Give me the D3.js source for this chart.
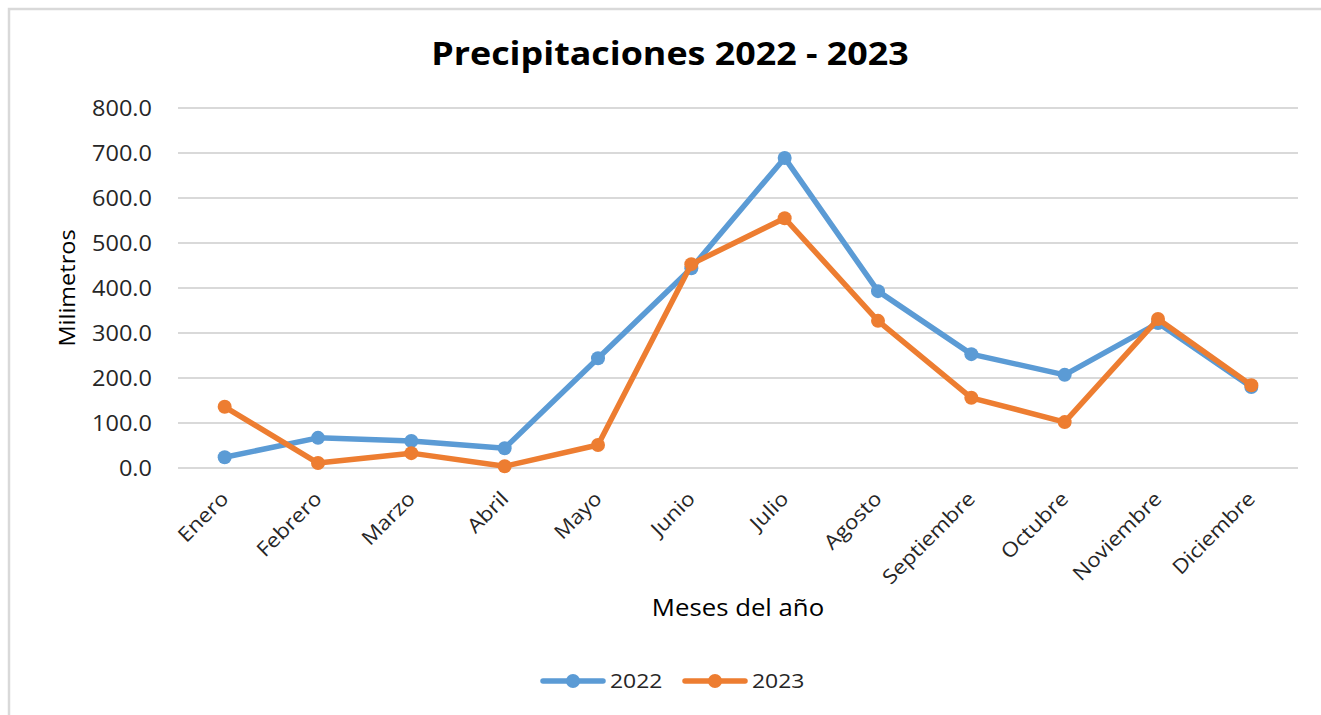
<!DOCTYPE html>
<html>
<head>
<meta charset="utf-8">
<script src="https://cdn.jsdelivr.net/npm/d3@7"></script>
<style>
  body { margin: 0; background: #fff; }
  svg { display: block; font-family: "Open Sans", sans-serif; }
</style>
</head>
<body>
<div id="chart"></div>
<script>
// datos
const months = ["Enero", "Febrero", "Marzo", "Abril", "Mayo", "Junio", "Julio",
  "Agosto", "Septiembre", "Octubre", "Noviembre", "Diciembre"];
const rain2022 = [24, 67, 60, 44, 244, 444, 689, 393, 253, 207, 322, 180];
const rain2023 = [136, 11, 33, 4, 51, 453, 555, 327, 156, 102, 331, 184];
const yTicks = [0, 100, 200, 300, 400, 500, 600, 700, 800];
const seriesNames = ["2022", "2023"];
const colors = ["#5b9bd5", "#ed7d31"];

let W = 1321, H = 715;
let margin = { top: 108, right: 23, bottom: 247, left: 178 };
let width = W - margin.left - margin.right;
let height = H - margin.top - margin.bottom;
const stretch = "scale(1.12,1)"; // el texto del original sale algo ensanchado

let svg = d3.select("#chart").append("svg")
  .attr("width", W)
  .attr("height", H);

// marco
svg.append("rect")
  .attr("x", 9).attr("y", 9)
  .attr("width", W + 20).attr("height", H + 20)
  .attr("fill", "#fff")
  .attr("stroke", "#d9d9d9")
  .attr("stroke-width", 2.5);

let g = svg.append("g")
  .attr("transform", `translate(${margin.left},${margin.top})`);

let x = d3.scaleBand().domain(months).range([0, width]);
let y = d3.scaleLinear().domain([0, 800]).range([height, 0]);

// grid
g.append("g")
  .selectAll("line")
  .data(yTicks)
  .join("line")
  .attr("x1", 0).attr("x2", width)
  .attr("y1", d => y(d)).attr("y2", d => y(d))
  .attr("stroke", "#d9d9d9")
  .attr("stroke-width", 2);

// eje y
let yAxis = g.append("g")
  .call(d3.axisLeft(y).tickValues(yTicks).tickFormat(d3.format(".1f")).tickSize(0));
yAxis.select(".domain").remove();
yAxis.selectAll("text")
  .attr("x", 0)
  .attr("dy", "0.36em")
  .attr("transform", "translate(-26,0) " + stretch)
  .attr("fill", "#262626")
  .style("font-size", "21px")
  .style("font-family", "Open Sans, sans-serif");

// eje x
let xAxis = g.append("g")
  .attr("transform", `translate(0,${height})`)
  .call(d3.axisBottom(x).tickSize(0).tickPadding(0));
xAxis.select(".domain").remove();
xAxis.selectAll("text")
  .attr("fill", "#262626")
  .style("font-size", "20px")
  .style("font-family", "Open Sans, sans-serif")
  .attr("text-anchor", "end")
  .attr("y", 0)
  .attr("dy", null)
  .attr("transform", "translate(5,32) rotate(-45) " + stretch);

// series
let line = d3.line()
  .x((d, i) => x(months[i]) + x.bandwidth() / 2)
  .y(d => y(d));

[rain2022, rain2023].forEach((vals, k) => {
  let s = g.append("g");
  s.append("path")
    .datum(vals)
    .attr("fill", "none")
    .attr("stroke", colors[k])
    .attr("stroke-width", 5.5)
    .attr("stroke-linejoin", "round")
    .attr("d", line);
  s.selectAll("circle")
    .data(vals)
    .join("circle")
    .attr("cx", (d, i) => x(months[i]) + x.bandwidth() / 2)
    .attr("cy", d => y(d))
    .attr("r", 7)
    .attr("fill", colors[k]);
});

// titulos
svg.append("text")
  .attr("transform", "translate(670,65) " + stretch)
  .attr("text-anchor", "middle")
  .attr("fill", "#000")
  .style("font-size", "32px")
  .style("font-weight", "bold")
  .text("Precipitaciones 2022 - 2023");

svg.append("text")
  .attr("transform", "translate(75,288) rotate(-90) " + stretch)
  .attr("text-anchor", "middle")
  .attr("fill", "#000")
  .style("font-size", "21px")
  .text("Milimetros");

svg.append("text")
  .attr("transform", "translate(738,616) " + stretch)
  .attr("text-anchor", "middle")
  .attr("fill", "#000")
  .style("font-size", "23px")
  .text("Meses del año");

// leyenda
let legend = svg.append("g");
let lx = [543, 685];
seriesNames.forEach((name, k) => {
  let lg = legend.append("g").attr("transform", `translate(${lx[k]},681)`);
  lg.append("line")
    .attr("x1", 0).attr("x2", 60)
    .attr("stroke", colors[k])
    .attr("stroke-width", 5.5)
    .attr("stroke-linecap", "round");
  lg.append("circle").attr("cx", 30).attr("r", 7).attr("fill", colors[k]);
  lg.append("text")
    .attr("transform", "translate(67,7) " + stretch)
    .attr("fill", "#262626")
    .style("font-size", "20.5px")
    .text(name);
});
</script>
</body>
</html>
